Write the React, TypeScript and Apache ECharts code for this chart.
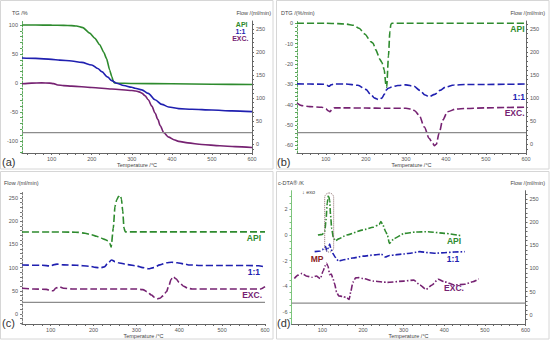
import React, { useEffect, useRef } from "react";
import * as echarts from "echarts";

const GREEN = "#2e8b2e";
const BLUE = "#2020b0";
const PURPLE = "#762272";
const GRAY = "#8c8c8c";
const FONT = "'Liberation Sans', Arial, sans-serif";

// ---------- (a) TG /% ----------
const tgApiT = [26, 60, 100, 130, 150, 162, 178, 195, 208, 220, 230, 237, 245, 250, 254, 257, 262, 300, 400, 500, 600];
const tgApi = [100, 100, 99.8, 99.4, 99, 98.3, 95.5, 86, 77, 66, 53, 42, 22, 11, 2.5, 0, -0.4, -0.9, -1.5, -2.2, -2.8];
const tgMixT = [26, 60, 100, 120, 150, 175, 200, 215, 225, 240, 250, 262, 280, 300, 308, 325, 341, 358, 375, 392, 417, 450, 500, 550, 600];
const tgMix = [43, 42.5, 40.8, 39.5, 38, 35.5, 31, 25, 19.5, 10, 4, -0.5, -4.5, -7.5, -9.2, -12, -18, -29, -37, -41.5, -44.3, -45.5, -46.8, -48.2, -49.5];
const tgExcT = [26, 50, 75, 95, 105, 115, 130, 150, 200, 250, 300, 310, 320, 325, 333, 341, 350, 358, 365, 371, 380, 392, 405, 417, 440, 475, 520, 558, 600];
const tgExc = [-1.5, -0.3, 0.2, -0.3, -1.2, -3.5, -4.6, -5.5, -7.8, -10.5, -13, -14, -15.8, -17.5, -22, -29, -40, -52, -63, -74, -86, -93.5, -98, -101, -103.5, -106.3, -108.5, -110, -111.5];

// ---------- (b) DTG /(%/min) ----------
const dtgApiT = [28, 100, 130, 150, 170, 183, 198, 212, 218, 225, 235, 240, 246, 250, 252, 256.5, 260, 262.5, 265, 300, 600];
const dtgApi = [0, 0, -0.2, -0.4, -1, -2.5, -5.4, -9, -9.8, -13.1, -17.7, -19.2, -23, -30.2, -31.5, -16, -4, -0.5, 0, 0, 0];
const dtgMixT = [28, 60, 95, 103, 108, 113, 120, 150, 180, 200, 212, 222, 232, 240, 246, 250, 256, 265, 280, 300, 320, 335, 348, 358, 372, 385, 400, 420, 450, 500, 550, 600];
const dtgMix = [-29.8, -29.9, -30, -30.5, -31, -30.3, -29.9, -29.9, -30.5, -32.5, -35, -36.8, -37.6, -36.8, -35, -33, -32, -31.3, -30.6, -30.3, -31, -33, -35.3, -36.1, -35, -33, -31.3, -30.4, -30.1, -30.1, -30, -29.9];
const dtgExcT = [28, 40, 60, 90, 100, 106, 110, 115, 122, 140, 200, 250, 300, 315, 322, 333, 346, 358, 367, 371, 376, 383, 392, 404, 425, 450, 500, 550, 600];
const dtgExc = [-39.3, -40.5, -41, -41.3, -42, -43, -43.5, -42.5, -41.6, -41.6, -41.7, -41.8, -41.8, -42.2, -43, -45.2, -51, -56.6, -59, -60.2, -59.5, -54, -47.6, -43.5, -42.2, -41.9, -41.6, -41.4, -41.3];

// ---------- (c) Flow /(ml/min) ----------
const flowApiT = [33, 100, 150, 165, 180, 195, 207, 215, 222, 228, 234, 238, 241, 246, 250, 254, 258, 262, 265, 268, 271, 274, 300, 400, 600];
const flowApi = [176.8, 176.8, 176.5, 176, 174, 171, 167.5, 165, 162, 160, 157, 152, 144, 185, 232, 246, 253, 256, 248, 222, 185, 177, 177, 177, 177];
const flowMixT = [33, 80, 100, 108, 115, 130, 160, 190, 205, 215, 225, 233, 242, 250, 260, 280, 300, 315, 328, 340, 355, 370, 382, 395, 410, 425, 450, 500, 560, 585, 600];
const flowMix = [105.5, 105, 103.5, 106.5, 107.5, 106, 105, 103, 100.5, 99.5, 101.5, 109, 116.5, 113, 110, 106.5, 103.5, 100, 97.5, 100, 106, 110.5, 111.5, 110.5, 108, 105.7, 104.5, 104.5, 104.5, 104, 101];
const flowExcT = [33, 60, 90, 100, 106, 112, 120, 130, 150, 200, 300, 315, 325, 335, 342, 348, 355, 362, 370, 376, 381, 386, 392, 400, 410, 420, 430, 500, 590, 600];
const flowExc = [55.5, 54, 53, 50.5, 50, 56, 58.5, 55.5, 54, 54, 54, 52.5, 48, 41, 36, 32.5, 34, 39, 48, 62, 75, 80.5, 76, 68, 60, 55.5, 54, 54, 54, 59];

// ---------- (d) c-DTA /K ----------
const dtaApiT = [89, 100, 106, 109, 112, 115, 118, 120, 123, 127, 132, 140, 160, 200, 225, 240, 244, 248, 256, 260, 265, 277, 302, 330, 360, 400, 440];
const dtaApi = [0, 0.05, 0.3, 1.2, 2.5, 3.1, 2.7, 1.6, 0.5, -0.2, -0.45, -0.3, 0, 0.4, 0.6, 0.82, 1.05, 0.85, 0.26, 0, -0.65, -0.27, 0.13, 0.23, 0.26, 0.13, -0.05];
const dtaMixT = [81, 95, 100, 105, 108, 111, 115, 118, 121, 126, 132, 140, 150, 175, 200, 230, 245, 255, 265, 280, 300, 320, 340, 360, 380, 400, 425, 451];
const dtaMix = [-1.3, -1.25, -1.15, -1.0, -0.9, -1.25, -1.0, -0.7, -1.1, -1.45, -1.75, -2.05, -1.95, -1.8, -1.65, -1.55, -1.5, -1.72, -1.6, -1.55, -1.48, -1.4, -1.3, -1.38, -1.42, -1.38, -1.33, -1.3];
const dtaExcT = [31, 40, 50, 60, 75, 85, 95, 102, 107, 110, 114, 118, 122, 126, 130, 135, 140, 150, 160, 166, 170, 175, 182, 190, 200, 225, 260, 300, 325, 340, 355, 370, 385, 400, 425, 450, 470, 485];
const dtaExc = [-3.4, -3.13, -3.0, -3.2, -3.3, -3.2, -3.4, -2.8, -2.4, -2.2, -2.45, -3.1, -3.05, -3.4, -3.8, -4.45, -4.75, -4.8, -4.9, -5.03, -4.4, -3.7, -3.35, -3.33, -3.4, -3.6, -3.7, -3.6, -3.52, -3.9, -4.25, -3.9, -3.45, -3.65, -3.9, -3.85, -3.65, -3.43];

// purge gas flow (grey line), ml/min
const purgeFlow = 25;
// melting-point box in (d): temperature / c-DTA range
const mpBoxT = [105.7, 127.8];
const mpBoxV = [3.28, -1.33];

const tempTicks = [100, 200, 300, 400, 500, 600];
const tempMinor = Array.from({ length: 29 }, (_, i) => 40 + i * 20);
const tgTicks = [-100, -50, 0, 50, 100];
const dtgTicks = [-60, -50, -40, -30, -20, -10, 0];
const flowTicks = [0, 50, 100, 150, 200, 250];
const dtaTicks = [-6, -4, -2, 0, 2];

const zip = (t: number[], v: number[]) => t.map((x, i) => [x, v[i]]);

const tickLabel = { fontSize: 5.5, color: "#555", fontFamily: FONT };

function xAxis(grid: number, min: number) {
  return {
    type: "value",
    gridIndex: grid,
    min,
    max: 600,
    name: "Temperature /°C",
    nameLocation: "middle",
    nameGap: 7,
    nameTextStyle: { fontSize: 5.5, color: "#444", fontFamily: FONT },
    axisLine: { show: true, onZero: false, lineStyle: { color: "#666", width: 1 } },
    axisTick: { show: true, customValues: tempMinor, length: 2, lineStyle: { color: "#666" } },
    axisLabel: { ...tickLabel, customValues: tempTicks, margin: 2.5 },
    splitLine: { show: false },
  };
}

function yAxis(grid: number, min: number, max: number, ticks: number[], minor: number[], pos: string, lineStyle: any) {
  return {
    type: "value",
    gridIndex: grid,
    position: pos,
    min,
    max,
    axisLine: { show: true, onZero: false, lineStyle },
    axisTick: { show: true, customValues: minor, length: 2, lineStyle: { color: lineStyle.color } },
    axisLabel: { ...tickLabel, customValues: ticks, margin: 4 },
    splitLine: { show: false },
  };
}

const range = (a: number, b: number, s: number) => {
  const r: number[] = [];
  for (let v = a; v <= b + 1e-9; v += s) r.push(+v.toFixed(3));
  return r;
};

function line(x: number, y: number, data: number[][], color: string, type: any, width = 1.5, smooth: number = 0.25) {
  return {
    type: "line",
    xAxisIndex: x,
    yAxisIndex: y,
    data,
    showSymbol: false,
    symbol: "none",
    smooth,
    smoothMonotone: "x",
    lineStyle: { color, width, type },
    silent: true,
  };
}

const DASH = [7, 3];
const DASHDOT = [6, 2, 1.5, 2];

export default function App() {
  const ref = useRef<HTMLDivElement>(null);
  useEffect(() => {
    if (!ref.current) return;
    const chart = echarts.init(ref.current, null, { renderer: "svg" });
    const flowMinA = -19, flowMax = 267;
    const option: any = {
      animation: false,
      backgroundColor: "#fff",
      textStyle: { fontFamily: FONT },
      grid: [
        { left: 22, top: 21, width: 230, height: 132 },
        { left: 297, top: 21, width: 229, height: 132 },
        { left: 22, top: 191.5, width: 243, height: 132.5 },
        { left: 291.5, top: 190.7, width: 234, height: 133.3 },
      ],
      xAxis: [xAxis(0, 26), xAxis(1, 28), xAxis(2, 33), xAxis(3, 24)],
      yAxis: [
        yAxis(0, -121, 107, tgTicks, range(-120, 100, 10), "left", { color: "#5aa85a", type: [2, 1.5], width: 1 }),
        yAxis(0, flowMinA, flowMax, flowTicks, range(-10, 260, 10), "right", { color: "#666", width: 1 }),
        yAxis(1, -63.8, 1.1, dtgTicks, range(-62, 0, 2), "left", { color: "#5aa85a", type: [2, 1.5], width: 1 }),
        yAxis(1, flowMinA, flowMax, flowTicks, range(-10, 260, 10), "right", { color: "#666", width: 1 }),
        yAxis(2, -21.5, 264, flowTicks, range(-20, 260, 10), "left", { color: "#777", type: [2, 1.5], width: 1 }),
        yAxis(3, -6.95, 3.46, dtaTicks, range(-6.5, 3, 0.5), "left", { color: "#7cc47c", width: 1 }),
        yAxis(3, -20, 268, flowTicks, range(-10, 260, 10), "right", { color: "#666", width: 1 }),
      ],
      series: [
        // (a)
        line(0, 0, zip(tgApiT, tgApi), GREEN, "solid", 1.6, 0.2),
        line(0, 0, zip(tgMixT, tgMix), BLUE, "solid", 1.6, 0.3),
        line(0, 0, zip(tgExcT, tgExc), PURPLE, "solid", 1.6, 0.3),
        line(0, 1, [[26, purgeFlow], [600, purgeFlow]], GRAY, "solid", 1.2, 0),
        // (b)
        line(1, 2, zip(dtgApiT, dtgApi), GREEN, DASH, 1.6, 0.2),
        line(1, 2, zip(dtgMixT, dtgMix), BLUE, DASH, 1.6, 0.3),
        line(1, 2, zip(dtgExcT, dtgExc), PURPLE, DASH, 1.6, 0.3),
        line(1, 3, [[28, purgeFlow], [600, purgeFlow]], GRAY, "solid", 1.2, 0),
        // (c)
        line(2, 4, zip(flowApiT, flowApi), GREEN, DASH, 1.6, 0.2),
        line(2, 4, zip(flowMixT, flowMix), BLUE, DASH, 1.6, 0.3),
        line(2, 4, zip(flowExcT, flowExc), PURPLE, DASH, 1.6, 0.3),
        line(2, 4, [[33, purgeFlow], [600, purgeFlow]], GRAY, "solid", 1.2, 0),
        // (d)
        line(3, 5, zip(dtaApiT, dtaApi), GREEN, DASHDOT, 1.6, 0.2),
        line(3, 5, zip(dtaMixT, dtaMix), BLUE, DASHDOT, 1.6, 0.2),
        line(3, 5, zip(dtaExcT, dtaExc), PURPLE, DASHDOT, 1.6, 0.2),
        line(3, 6, [[24, purgeFlow], [600, purgeFlow]], GRAY, "solid", 1.2, 0),
      ],
    };
    chart.setOption(option);

    const p0 = chart.convertToPixel({ seriesIndex: 12 }, [mpBoxT[0], mpBoxV[0]]) as number[];
    const p1 = chart.convertToPixel({ seriesIndex: 12 }, [mpBoxT[1], mpBoxV[1]]) as number[];

    const txt = (x: number, y: number, text: string, o: any = {}) => ({
      type: "text",
      x,
      y,
      silent: true,
      style: {
        text,
        fill: o.fill || "#444",
        font: `${o.weight || "normal"} ${o.size || 5.5}px ${FONT}`,
        textAlign: o.align || "left",
        textVerticalAlign: "middle",
      },
    });
    const border = (x: number, y: number, w: number, h: number) => ({
      type: "rect",
      silent: true,
      shape: { x, y, width: w, height: h },
      style: { fill: "none", stroke: "#d6d6d6", lineWidth: 1 },
      z: -1,
    });
    const lab = { weight: "bold", size: 8.5 };
    const labA = { weight: "bold", size: 7 };

    chart.setOption({
      graphic: [
        border(0.5, 0.5, 272.5, 168.5),
        border(276.5, 0.5, 272.5, 168.5),
        border(0.5, 171.5, 272.5, 167.5),
        border(276.5, 171.5, 272.5, 167.5),
        // axis titles
        txt(12, 13, "TG /%"),
        txt(271, 13, "Flow /(ml/min)", { align: "right" }),
        txt(281, 13, "DTG /(%/min)"),
        txt(545, 13, "Flow /(ml/min)", { align: "right" }),
        txt(4, 182.5, "Flow /(ml/min)"),
        txt(278, 182.5, "c-DTA® /K"),
        txt(302, 192, "↓ exo"),
        txt(545, 182.5, "Flow /(ml/min)", { align: "right" }),
        // panel letters
        txt(2, 161.5, "(a)", { size: 11, fill: "#333" }),
        txt(277, 161.5, "(b)", { size: 11, fill: "#333" }),
        txt(2, 322.5, "(c)", { size: 11, fill: "#333" }),
        txt(277, 323, "(d)", { size: 11, fill: "#333" }),
        // labels (a), stacked tightly
        txt(247.5, 24.6, "API", { ...labA, fill: GREEN, align: "right" }),
        txt(245.5, 31.7, "1:1", { ...labA, fill: BLUE, align: "right" }),
        txt(248.5, 38.8, "EXC.", { ...labA, fill: PURPLE, align: "right" }),
        // labels (b)
        txt(524.5, 29, "API", { ...lab, fill: GREEN, align: "right" }),
        txt(525, 96.7, "1:1", { ...lab, fill: BLUE, align: "right" }),
        txt(524.5, 113.3, "EXC.", { ...lab, fill: PURPLE, align: "right" }),
        // labels (c)
        txt(261, 238.3, "API", { ...lab, fill: GREEN, align: "right" }),
        txt(260, 271.7, "1:1", { ...lab, fill: BLUE, align: "right" }),
        txt(262, 295, "EXC.", { ...lab, fill: PURPLE, align: "right" }),
        // labels (d)
        txt(454, 241, "API", { ...lab, fill: GREEN, align: "center" }),
        txt(453, 259, "1:1", { ...lab, fill: BLUE, align: "center" }),
        txt(454, 288, "EXC.", { ...lab, fill: PURPLE, align: "center" }),
        txt(317, 259, "MP", { ...lab, fill: "#8b2222", align: "center" }),
        {
          type: "rect",
          silent: true,
          shape: { x: p0[0], y: p0[1], width: p1[0] - p0[0], height: p1[1] - p0[1], r: 4.5 },
          style: { fill: "none", stroke: "#8a6a6a", lineWidth: 1, lineDash: [1, 1] },
          z: 10,
        },
      ],
    });

    return () => chart.dispose();
  }, []);
  return <div ref={ref} style={{ position: "fixed", left: 0, top: 0, width: 550, height: 341, background: "#fff" }} />;
}
